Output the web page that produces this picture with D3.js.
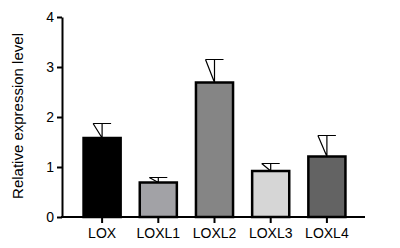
<!DOCTYPE html>
<html>
<head>
<meta charset="utf-8">
<script src="https://cdn.jsdelivr.net/npm/d3@7"></script>
<style>
  body { margin: 0; background: #fff; }
  text { font-family: "Liberation Sans", Arial, sans-serif; fill: #000; }
</style>
</head>
<body>
<div id="vis-container"></div>
<script>
var genes  = ["LOX", "LOXL1", "LOXL2", "LOXL3", "LOXL4"];
var means  = [1.58, 0.69, 2.69, 0.92, 1.21];
var errors = [0.29, 0.10, 0.46, 0.15, 0.42];
var fills  = ["#000000", "#a2a2a6", "#858585", "#d6d6d6", "#636363"];
var yTicks = [0, 1, 2, 3, 4];

var w = 400, h = 248;

var svg = d3.select("#vis-container")
    .append("svg")
    .attr("width", w)
    .attr("height", h);

var xScale = d3.scaleBand()
    .domain(genes)
    .range([74, 355])
    .paddingInner(0.34)
    .paddingOuter(0.17);

var yScale = d3.scaleLinear()
    .domain([0, 4])
    .range([217, 17]);

// bars
svg.selectAll(".bar")
    .data(means)
    .enter().append("rect")
    .attr("class", "bar")
    .attr("x", function(d, i) { return xScale(genes[i]); })
    .attr("width", xScale.bandwidth())
    .attr("y", function(d) { return yScale(d); })
    .attr("height", function(d) { return yScale(0) - yScale(d); })
    .attr("fill", function(d, i) { return fills[i]; })
    .attr("stroke", "#000")
    .attr("stroke-width", 2.5);

// error bars (upper only, with the odd diagonal stroke)
var capHalf = 9;
svg.selectAll(".err")
    .data(means)
    .enter().append("path")
    .attr("class", "err")
    .attr("fill", "none")
    .attr("stroke", "#000")
    .attr("stroke-width", 1.2)
    .attr("d", function(d, i) {
        var cx = xScale(genes[i]) + xScale.bandwidth() / 2;
        var top = yScale(d + errors[i]), base = yScale(d);
        return "M" + cx + "," + base + "V" + top +
               "M" + (cx - capHalf) + "," + top + "H" + (cx + capHalf) +
               "M" + (cx - capHalf) + "," + top + "L" + cx + "," + base;
    });

// y axis
var yAxis = d3.axisLeft(yScale)
    .tickValues(yTicks)
    .tickFormat(d3.format("d"))
    .tickSize(5)
    .tickSizeOuter(0)
    .tickPadding(3);

var gy = svg.append("g")
    .attr("class", "y axis")
    .attr("transform", "translate(62,0)")
    .call(yAxis);
gy.select(".domain").attr("stroke-width", 2);
gy.selectAll(".tick line").attr("stroke-width", 2);
gy.selectAll(".tick text").style("font-size", "14px");

// x axis
var xAxis = d3.axisBottom(xScale)
    .tickSize(6)
    .tickPadding(5);

var gx = svg.append("g")
    .attr("class", "x axis")
    .attr("transform", "translate(0,217)")
    .call(xAxis);
gx.select(".domain").remove();
gx.selectAll(".tick line").attr("stroke-width", 2);
gx.selectAll(".tick text").style("font-size", "14px");

svg.append("line")
    .attr("x1", 61).attr("x2", 365)
    .attr("y1", 217).attr("y2", 217)
    .attr("stroke", "#000")
    .attr("stroke-width", 2);

// y title
svg.append("text")
    .attr("transform", "translate(23," + (yScale(2) - 1) + ") rotate(-90)")
    .attr("text-anchor", "middle")
    .style("font-size", "15px")
    .text("Relative expression level");
</script>
</body>
</html>
